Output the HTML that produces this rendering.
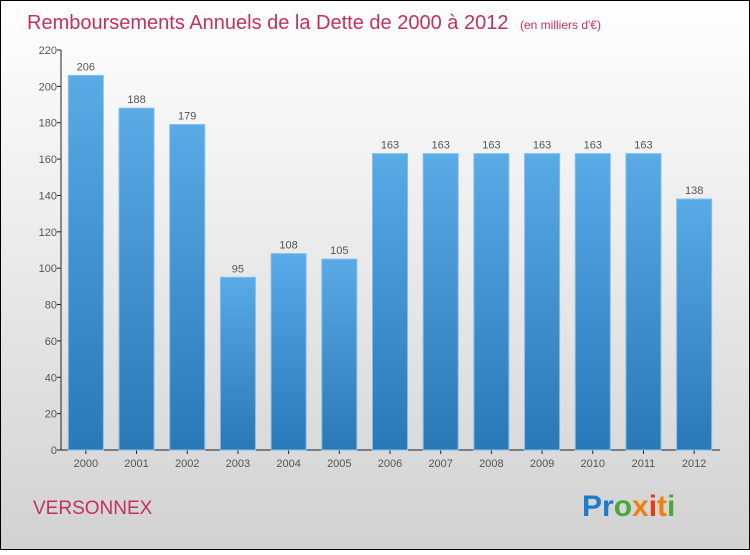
<!DOCTYPE html>
<html><head><meta charset="utf-8"><style>
body{margin:0}
#c{width:750px;height:550px;position:relative;font-family:"Liberation Sans",sans-serif}
</style></head><body>
<div id="c">
<svg width="750" height="550" xmlns="http://www.w3.org/2000/svg" id="svg">
<defs>
<linearGradient id="bg" x1="0" y1="0" x2="0" y2="1"><stop offset="0" stop-color="#ffffff"/><stop offset="1" stop-color="#d2d2d2"/></linearGradient>
<linearGradient id="bar" x1="0" y1="0" x2="0" y2="1"><stop offset="0" stop-color="#5aaae6"/><stop offset="1" stop-color="#2a78b6"/></linearGradient>
</defs>
<rect x="0.5" y="0.5" width="749" height="549" fill="url(#bg)" stroke="#000"/>
<text x="27" y="29" font-size="20" fill="#c4305e">Remboursements Annuels de la Dette de 2000 à 2012 <tspan font-size="12" dx="6">(en milliers d'€)</tspan></text>
<g id="axes"></g>
<g id="bars"></g>
<text x="33" y="514" font-size="19" fill="#c4305e">VERSONNEX</text>
<g font-size="30" font-weight="bold" font-family="Liberation Sans, sans-serif">
<text x="582" y="516"><tspan fill="#1f7bd0">Pr</tspan><tspan fill="#4aa83a">o</tspan><tspan fill="#f07e10">x</tspan><tspan fill="#e63a1a">i</tspan><tspan fill="#f07e10">t</tspan><tspan fill="#4aa83a">i</tspan></text>
</g>
</svg>
</div>
<script>
const years=["2000","2001","2002","2003","2004","2005","2006","2007","2008","2009","2010","2011","2012"];
const values=[206,188,179,95,108,105,163,163,163,163,163,163,138];
const ticks=[0,20,40,60,80,100,120,140,160,180,200,220];
const NS="http://www.w3.org/2000/svg";
const x0=61,x1=720,yTop=50,yBot=450,ymax=220;
const y=v=>yBot-(v/ymax)*(yBot-yTop);
const step=(x1-x0)/years.length;
const bx=i=>x0+step*(i+0.5)-0.5;
function mk(t,a,p){const e=document.createElementNS(NS,t);for(const k in a)e.setAttribute(k,a[k]);p.appendChild(e);return e;}
const ax=document.getElementById('axes'),bg=document.getElementById('bars');
const yl=mk('line',{x1:x0,y1:yTop,x2:x0,y2:yBot,stroke:'#222'},ax);


const xl=mk('line',{x1:x0,y1:yBot,x2:x1,y2:yBot,stroke:'#222'},ax);


ticks.forEach(t=>{
 const l=mk('line',{x1:x0-4,y1:y(t),x2:x0,y2:y(t),stroke:'#222'},ax);
 
 
 const tx=mk('text',{x:x0-4,y:y(t)+4,'text-anchor':'end','font-size':11,fill:'#555'},ax);
 tx.textContent=t;
 
 
});
years.forEach((yr,i)=>{
 const cx=bx(i),w=35;
 const r=mk('rect',{x:cx-w/2,y:y(values[i]),width:w,height:yBot-y(values[i]),fill:'url(#bar)',stroke:'#7cc0f0','stroke-width':1},bg);
 
 
 const v=mk('text',{x:cx,y:y(values[i])-5,'text-anchor':'middle','font-size':11,fill:'#555'},bg);
 v.textContent=values[i];
 
 
 const tk=mk('line',{x1:cx,y1:yBot,x2:cx,y2:yBot+4,stroke:'#222'},ax);
 
 
 const xt=mk('text',{x:cx,y:yBot+17,'text-anchor':'middle','font-size':11,fill:'#555'},ax);
 xt.textContent=yr;
 
 
});
</script>
</body></html>
